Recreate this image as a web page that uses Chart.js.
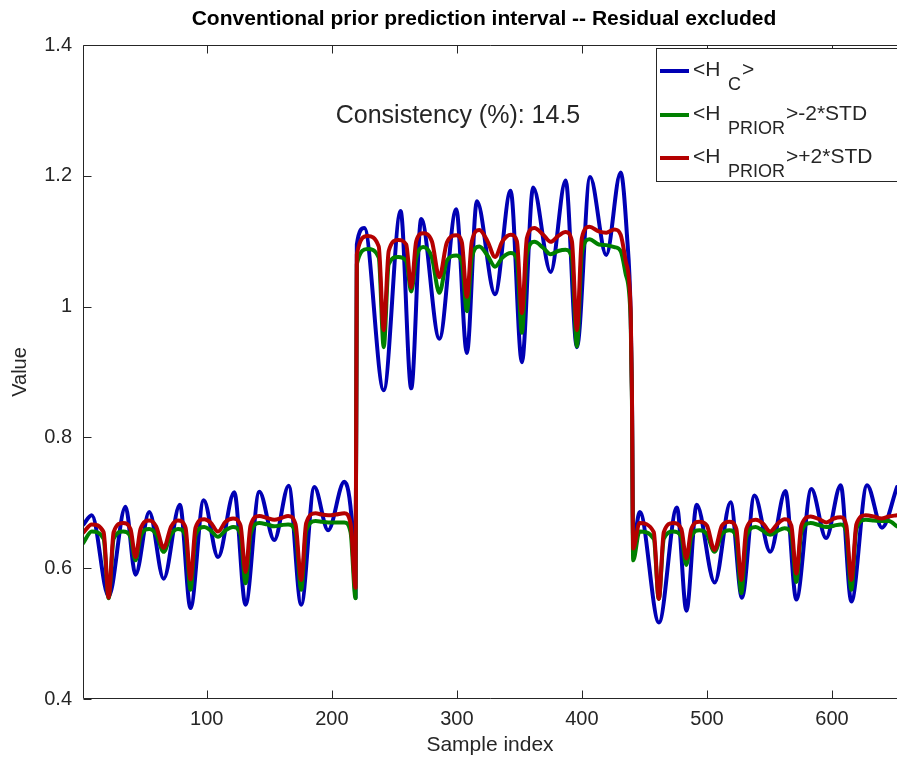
<!DOCTYPE html>
<html>
<head>
<meta charset="utf-8">
<title>Conventional prior prediction interval</title>
<script src="https://cdn.jsdelivr.net/npm/chart.js@4.4.1/dist/chart.umd.min.js"></script>
<style>
  html, body { margin: 0; padding: 0; background: #fff; }
  #chart { display: block; }
</style>
</head>
<body>
<canvas id="chart" width="897" height="765"></canvas>
<script>
"use strict";

/* ── Data ─────────────────────────────────────────────────── */
const xTicks      = [100, 200, 300, 400, 500, 600];
const xTickLabels = ["100", "200", "300", "400", "500", "600"];
const yTicks      = [0.4, 0.6, 0.8, 1.0, 1.2, 1.4];
const yTickLabels = ["0.4", "0.6", "0.8", "1", "1.2", "1.4"];

// <H_C> : sample index / value
const hcIdx = [
  1, 8, 21.5, 35, 43, 54, 65.5, 78.5, 87, 97.5, 109, 122, 131, 142, 154, 165.5, 175.5, 186, 197, 210, 216.5, 219,
  220, 226, 241.5, 255, 263.5, 271.5, 286, 299.5, 308, 316, 330.5, 343, 352, 361, 375, 387, 396, 406.5, 419.5, 431, 436, 439, 440,
  441, 446.3, 461.6, 476, 483.6, 491.8, 506.2, 518.9, 528, 538, 550.6, 562.8, 571.5, 583.5, 595.3, 607, 615.5, 628, 640, 652,
];
const hcVal = [
  0.666, 0.681, 0.557, 0.694, 0.590, 0.686, 0.584, 0.697, 0.539, 0.704, 0.617, 0.716, 0.544, 0.717, 0.643, 0.726, 0.544, 0.724, 0.658, 0.732, 0.660, 0.555,
  1.095, 1.120, 0.872, 1.146, 0.875, 1.134, 0.951, 1.149, 0.929, 1.161, 1.019, 1.177, 0.915, 1.182, 1.053, 1.193, 0.938, 1.198, 1.079, 1.205, 1.110, 0.990, 0.870,
  0.640, 0.686, 0.517, 0.693, 0.535, 0.697, 0.578, 0.701, 0.555, 0.711, 0.625, 0.718, 0.552, 0.721, 0.646, 0.727, 0.549, 0.727, 0.662, 0.724,
];

// prior interval bounds share one set of sample indices
const priorIdx = [
  1, 8, 17.5, 21.5, 25.5, 33, 39, 43, 47, 54, 59.5, 65.5, 71.5, 77, 83, 87, 91, 98, 103, 109,
  115, 121, 127, 131, 135, 142, 148, 154, 160, 165, 171, 175.5, 179.5, 187, 192, 197, 203, 210, 215, 219,
  220, 228.5, 237.5, 241.5, 245.5, 253, 259.5, 263.5, 267.5, 273, 280, 286, 292, 299.5, 304, 308, 312, 318, 324.5, 330.5,
  336.5, 343, 348, 352, 356, 362, 369, 375, 381, 387, 392, 396, 400, 406, 413.5, 419.5, 426, 431, 435, 439, 440,
  441, 446, 457.5, 461.5, 465.5, 473, 479.5, 483.5, 487.5, 494, 500, 506, 512, 518, 523.5, 527.5, 531.5, 539, 545,
  550.5, 556.5, 562, 567.5, 571.5, 575.5, 583, 589.5, 595.5, 601.5, 607, 611.5, 615.5, 619.5, 627, 633.5, 639.5, 645.5, 652,
];
const lowerVal = [
  0.638, 0.656, 0.645, 0.554, 0.645, 0.656, 0.648, 0.612, 0.648, 0.660, 0.652, 0.625, 0.652, 0.660, 0.650, 0.567, 0.650, 0.663, 0.658, 0.648,
  0.658, 0.663, 0.652, 0.577, 0.652, 0.669, 0.667, 0.664, 0.666, 0.667, 0.655, 0.567, 0.657, 0.672, 0.671, 0.670, 0.670, 0.670, 0.655, 0.554,
  1.065, 1.088, 1.075, 0.938, 1.065, 1.076, 1.070, 1.023, 1.075, 1.091, 1.075, 1.021, 1.070, 1.078, 1.068, 0.993, 1.075, 1.092, 1.078, 1.061,
  1.075, 1.082, 1.072, 0.960, 1.080, 1.099, 1.090, 1.080, 1.085, 1.087, 1.075, 0.939, 1.082, 1.103, 1.095, 1.094, 1.091, 1.085, 1.050, 0.980, 0.860,
  0.612, 0.656, 0.645, 0.553, 0.645, 0.656, 0.648, 0.605, 0.648, 0.658, 0.652, 0.625, 0.652, 0.658, 0.648, 0.562, 0.648, 0.663, 0.657,
  0.651, 0.657, 0.661, 0.652, 0.579, 0.655, 0.669, 0.666, 0.663, 0.665, 0.667, 0.655, 0.567, 0.660, 0.674, 0.673, 0.672, 0.672, 0.664,
];
const upperVal = [
  0.654, 0.667, 0.655, 0.555, 0.655, 0.669, 0.660, 0.617, 0.660, 0.673, 0.664, 0.631, 0.664, 0.673, 0.662, 0.583, 0.662, 0.675, 0.670, 0.656,
  0.671, 0.676, 0.665, 0.594, 0.665, 0.680, 0.677, 0.674, 0.677, 0.680, 0.667, 0.582, 0.669, 0.684, 0.682, 0.681, 0.682, 0.684, 0.668, 0.570,
  1.080, 1.108, 1.092, 0.964, 1.085, 1.102, 1.095, 1.029, 1.100, 1.112, 1.100, 1.045, 1.098, 1.109, 1.098, 1.015, 1.100, 1.117, 1.100, 1.076,
  1.100, 1.110, 1.100, 0.990, 1.105, 1.120, 1.110, 1.099, 1.108, 1.114, 1.100, 0.964, 1.105, 1.122, 1.115, 1.113, 1.118, 1.110, 1.070, 0.995, 0.870,
  0.630, 0.669, 0.655, 0.553, 0.655, 0.669, 0.660, 0.615, 0.660, 0.671, 0.665, 0.628, 0.665, 0.671, 0.660, 0.582, 0.660, 0.674, 0.668,
  0.656, 0.668, 0.675, 0.665, 0.592, 0.665, 0.679, 0.675, 0.670, 0.676, 0.678, 0.665, 0.582, 0.667, 0.681, 0.679, 0.676, 0.679, 0.681,
];

const consistencyText = "Consistency (%): 14.5";

/* ── Style ────────────────────────────────────────────────── */
const FONT  = "'Liberation Sans', Arial, Helvetica, sans-serif";
const INK   = "#262626";
const BLUE  = "#0000b4";
const GREEN = "#008000";
const RED   = "#b40000";

const toPts = (xs, ys) => xs.map((x, i) => ({ x, y: ys[i] }));

/* ── Frame, title, annotation and legend ──────────────────── */
const framePlugin = {
  id: "frame",
  afterDraw(chart) {
    const { ctx, chartArea: a, scales: { x, y } } = chart;
    const L = Math.round(a.left) + 0.5;
    const T = Math.round(a.top) + 0.5;
    const B = Math.round(a.bottom) - 0.5;
    const R = chart.width;

    ctx.save();
    ctx.strokeStyle = INK;
    ctx.lineWidth = 1;
    ctx.beginPath();
    ctx.moveTo(R, T); ctx.lineTo(L, T); ctx.lineTo(L, B); ctx.lineTo(R, B);
    // inner ticks
    xTicks.forEach((v) => {
      const px = Math.round(x.getPixelForValue(v)) + 0.5;
      ctx.moveTo(px, B); ctx.lineTo(px, B - 8);
      ctx.moveTo(px, T); ctx.lineTo(px, T + 8);
    });
    yTicks.forEach((v) => {
      const py = Math.round(y.getPixelForValue(v)) + 0.5;
      ctx.moveTo(L, py); ctx.lineTo(L + 8, py);
    });
    ctx.stroke();

    // title
    ctx.fillStyle = "#000";
    ctx.textAlign = "center";
    ctx.textBaseline = "middle";
    ctx.font = `bold 21px ${FONT}`;
    ctx.fillText("Conventional prior prediction interval -- Residual excluded", 484, 19);

    // annotation
    ctx.fillStyle = INK;
    ctx.font = `25px ${FONT}`;
    ctx.fillText(consistencyText, 458, 116);

    // legend box
    ctx.fillStyle = "#fff";
    ctx.fillRect(656, 48, R - 656, 134);
    ctx.strokeStyle = INK;
    ctx.strokeRect(656.5, 48.5, R, 133);

    const rows = [
      { color: BLUE,  sub: "C",     tail: ">",       ly: 71,  base: 76  },
      { color: GREEN, sub: "PRIOR", tail: ">-2*STD", ly: 115, base: 120 },
      { color: RED,   sub: "PRIOR", tail: ">+2*STD", ly: 158, base: 163 },
    ];
    ctx.textAlign = "left";
    ctx.textBaseline = "alphabetic";
    rows.forEach((r) => {
      ctx.strokeStyle = r.color;
      ctx.lineWidth = 4;
      ctx.beginPath();
      ctx.moveTo(660, r.ly); ctx.lineTo(689, r.ly);
      ctx.stroke();

      ctx.fillStyle = INK;
      ctx.font = `21px ${FONT}`;
      ctx.fillText("<H", 693, r.base);
      ctx.font = `18px ${FONT}`;
      ctx.fillText(r.sub, 728, r.base + 14);
      const w = ctx.measureText(r.sub).width;
      ctx.font = `21px ${FONT}`;
      ctx.fillText(r.tail, 729 + w, r.base);
    });
    ctx.restore();
  },
};

/* ── Chart ────────────────────────────────────────────────── */
const ctx = document.getElementById("chart").getContext("2d");
new Chart(ctx, {
  type: "line",
  data: {
    datasets: [
      { label: "<H_C>",             data: toPts(hcIdx, hcVal),       borderColor: BLUE,  order: 3 },
      { label: "<H_PRIOR>-2*STD",   data: toPts(priorIdx, lowerVal), borderColor: GREEN, order: 2 },
      { label: "<H_PRIOR>+2*STD",   data: toPts(priorIdx, upperVal), borderColor: RED,   order: 1 },
    ],
  },
  options: {
    responsive: false,
    animation: false,
    devicePixelRatio: 1,
    layout: { padding: { top: 45, right: 0, bottom: 0, left: 0 } },
    elements: {
      point: { radius: 0 },
      line: {
        borderWidth: 4,
        fill: false,
        cubicInterpolationMode: "monotone",
        borderJoinStyle: "round",
        borderCapStyle: "round",
      },
    },
    plugins: {
      legend: { display: false },
      tooltip: { enabled: false },
      title: { display: false },
    },
    scales: {
      x: {
        type: "linear",
        min: 1,
        max: 652,
        grid: { display: false, drawTicks: false },
        border: { display: false },
        afterBuildTicks: (s) => { s.ticks = xTicks.map((v) => ({ value: v })); },
        afterFit: (s) => { s.height = 66; },
        ticks: {
          autoSkip: false,
          maxRotation: 0,
          padding: 8,
          color: INK,
          font: { family: FONT, size: 20 },
          callback: (v, i) => xTickLabels[i],
        },
        title: {
          display: true,
          text: "Sample index",
          color: INK,
          font: { family: FONT, size: 21 },
          padding: { top: 7, bottom: 7 },
        },
      },
      y: {
        min: 0.4,
        max: 1.4,
        grid: { display: false, drawTicks: false },
        border: { display: false },
        afterBuildTicks: (s) => { s.ticks = yTicks.map((v) => ({ value: v })); },
        afterFit: (s) => { s.width = 83; },
        ticks: {
          padding: 11,
          color: INK,
          font: { family: FONT, size: 20 },
          callback: (v, i) => yTickLabels[i],
        },
        title: {
          display: true,
          text: "Value",
          color: INK,
          font: { family: FONT, size: 20 },
          padding: { top: 8, bottom: 8 },
        },
      },
    },
  },
  plugins: [framePlugin],
});
</script>
</body>
</html>
